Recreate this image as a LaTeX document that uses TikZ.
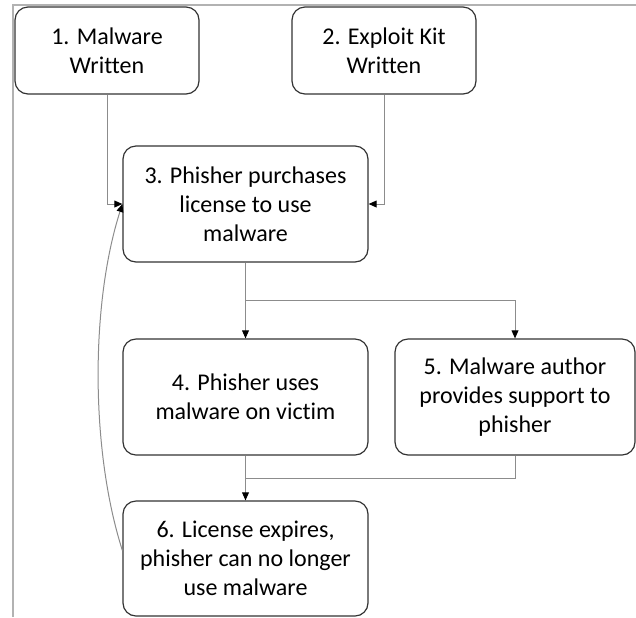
\documentclass[tikz,border=0pt]{standalone}
\usepackage{fontspec}
\setmainfont{Carlito}[Ligatures=NoCommon]
\usetikzlibrary{arrows.meta}

\tikzset{
	stage/.style={draw=black!80, line width=.6pt, rounded corners=6.5pt, align=center, inner sep=0pt,
		font=\fontsize{12}{14.5}\selectfont},
	link/.style={draw=black!45, line width=.5pt, -{Triangle[length=4pt,width=3.4pt,color=black]}},
	joint/.style={draw=black!45, line width=.5pt}
}

\begin{document}
\begin{tikzpicture}[x=.5pt,y=-.5pt]
				\useasboundingbox (0,0) rectangle (636,617);
				\draw [black!30, line width=1pt] (13,617) -- (13,5) -- (636,5);

				\node [stage, minimum width=92pt, minimum height=43.5pt] (written) at (107,50.5) {1. Malware\\Written};
				\node [stage, minimum width=92pt, minimum height=43.5pt] (kit) at (384,50.5) {2. Exploit Kit\\Written};
				\node [stage, minimum width=122.5pt, minimum height=58pt] (license) at (245.5,204) {3. Phisher purchases\\license to use\\malware};
				\node [stage, minimum width=122.5pt, minimum height=58pt] (victim) at (245.5,397) {4. Phisher uses\\malware on victim};
				\node [stage, minimum width=120pt, minimum height=58pt] (support) at (515,397) {5. Malware author\\provides support to\\phisher};
				\node [stage, minimum width=122.5pt, minimum height=57.5pt] (expires) at (245.5,558.5) {6. License expires,\\phisher can no longer\\use malware};

				\coordinate (split) at (245.5,300);
				\coordinate (merge) at (245.5,478);

				\draw [link] (written.south) |- (license.west);
				\draw [link] (kit.south) |- (license.east);
				\draw [link] (license.south) -- (victim.north);
				\draw [link] (split) -| (support.north);
				\draw [link] (victim.south) -- (expires.north);
				\draw [joint] (support.south) |- (merge);
				\draw [link] ([yshift=4pt]expires.west) .. controls +(-32,-100) and +(-32,100) .. (license.west);
		\end{tikzpicture}
\end{document}
